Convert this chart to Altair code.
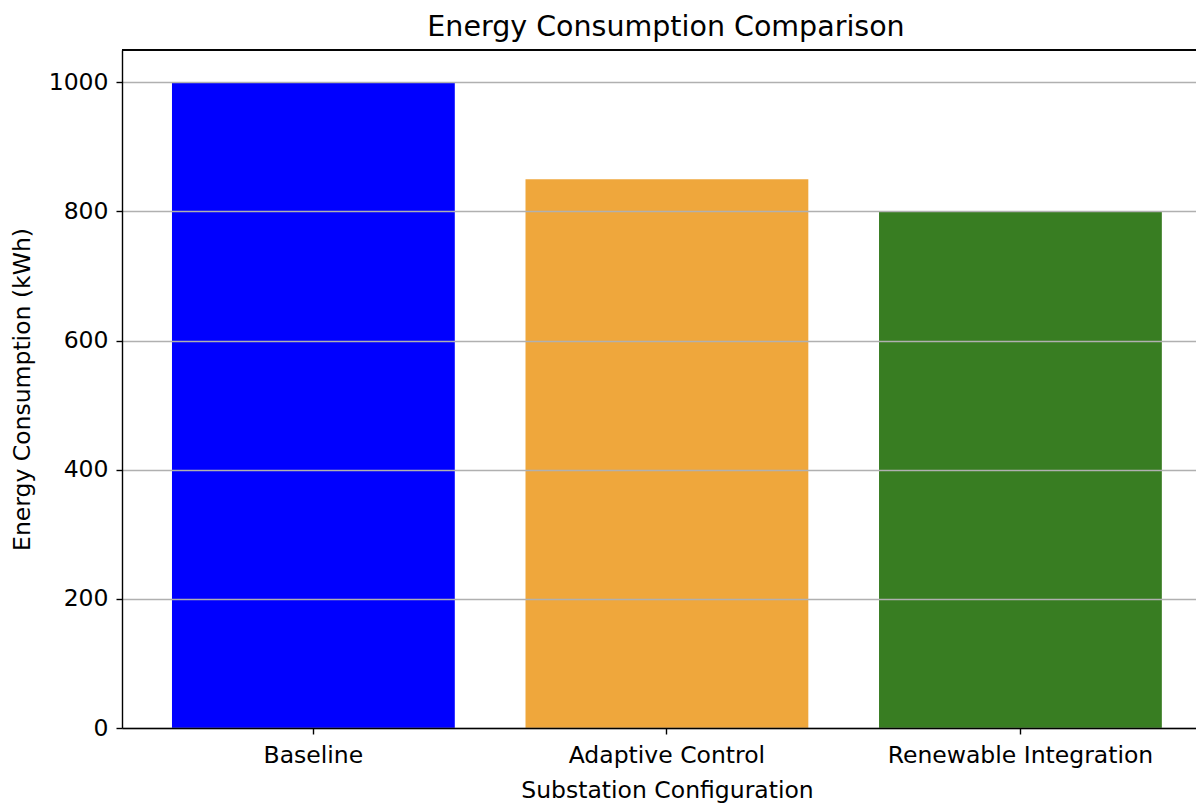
import altair as alt
import pandas as pd

categories = ["Baseline", "Adaptive Control", "Renewable Integration"]
values = [1000, 850, 800]
colors = ["#0000FF", "#EFA73C", "#387D22"]
y_ticks = [0, 200, 400, 600, 800, 1000]
y_max = 1050

df = pd.DataFrame({"config": categories, "energy": values})

FONT = "DejaVu Sans"

x_scale = alt.Scale(domain=categories, paddingInner=0.2, paddingOuter=0.119, align=0.594)
y_scale = alt.Scale(domain=[0, y_max], nice=False)

bars = alt.Chart(df).mark_bar().encode(
    x=alt.X("config:N", scale=x_scale, sort=categories,
            axis=alt.Axis(title="Substation Configuration", labelAngle=0, labelLimit=0,
                          labelFont=FONT, labelFontSize=23.5, labelColor="#000000",
                          labelPadding=9, tickSize=6, tickColor="#000000", tickWidth=1.4,
                          domainColor="#000000", domainWidth=1.4,
                          titleFont=FONT, titleFontSize=23.5, titleFontWeight="normal",
                          titleColor="#000000", titleX=545, titleY=62,
                          titleAlign="center", titleBaseline="middle", grid=False,
                          zindex=2)),
    y=alt.Y("energy:Q", scale=y_scale,
            axis=alt.Axis(title="Energy Consumption (kWh)", values=y_ticks, format="d",
                          labelFont=FONT, labelFontSize=23.5, labelColor="#000000",
                          labelPadding=8, tickSize=6, tickColor="#000000", tickWidth=1.4,
                          domainColor="#000000", domainWidth=1.4,
                          grid=True, gridColor="#b0b0b0", gridWidth=1.4,
                          titleFont=FONT, titleFontSize=23.5, titleFontWeight="normal",
                          titleColor="#000000", titleX=-100, titleY=339,
                          titleAlign="center", titleBaseline="middle", titleAngle=-90,
                          zindex=1)),
    color=alt.Color("config:N", scale=alt.Scale(domain=categories, range=colors), legend=None),
)

top_border = alt.Chart(df).mark_rule(color="#000000", strokeWidth=1.4).encode(
    y=alt.datum(y_max, scale=y_scale)
)

chart = alt.layer(bars, top_border).properties(
    width=1074,
    height=678,
    padding={"left": 114, "top": 42, "right": 0, "bottom": 75},
    autosize=alt.AutoSizeParams(type="none"),
    title=alt.TitleParams("Energy Consumption Comparison", font=FONT, fontSize=28.5,
                          fontWeight="normal", color="#000000", anchor="middle",
                          offset=8, dx=7),
).configure_view(stroke=None)

chart.save("out.html", embed_options={"renderer": "svg", "actions": False})
